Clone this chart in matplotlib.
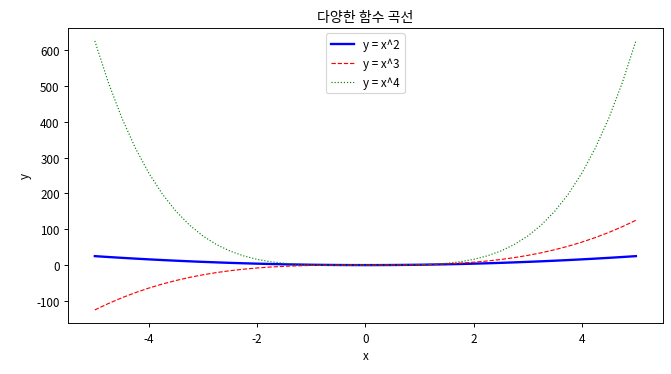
import matplotlib
matplotlib.use('Agg')
from matplotlib import pyplot as plt

# x values and function values
x_vals = [-5, -4.75, -4.5, -4.25, -4, -3.75, -3.5, -3.25, -3, -2.75, -2.5,
          -2.25, -2, -1.75, -1.5, -1.25, -1, -0.75, -0.5, -0.25, 0,
          0.25, 0.5, 0.75, 1, 1.25, 1.5, 1.75, 2, 2.25, 2.5,
          2.75, 3, 3.25, 3.5, 3.75, 4, 4.25, 4.5, 4.75, 5]

y_square = [25, 22.5625, 20.25, 18.0625, 16, 14.0625, 12.25, 10.5625, 9, 7.5625, 6.25,
            5.0625, 4, 3.0625, 2.25, 1.5625, 1, 0.5625, 0.25, 0.0625, 0,
            0.0625, 0.25, 0.5625, 1, 1.5625, 2.25, 3.0625, 4, 5.0625, 6.25,
            7.5625, 9, 10.5625, 12.25, 14.0625, 16, 18.0625, 20.25, 22.5625, 25]

y_cube = [-125, -107.17, -91.125, -76.77, -64, -52.73, -42.875, -34.33, -27, -20.80, -15.625,
          -11.39, -8, -5.359, -3.375, -1.953, -1, -0.4219, -0.125, -0.0156, 0,
          0.0156, 0.125, 0.4219, 1, 1.953, 3.375, 5.359, 8, 11.39, 15.625,
          20.80, 27, 34.33, 42.875, 52.73, 64, 76.77, 91.125, 107.17, 125]

y_fourth = [625, 509.07, 410.06, 326.25, 256, 197.75, 150.06, 111.57, 81, 57.19, 39.06,
            25.63, 16, 9.379, 5.0625, 2.441, 1, 0.3164, 0.0625, 0.0039, 0,
            0.0039, 0.0625, 0.3164, 1, 2.441, 5.0625, 9.379, 16, 25.63, 39.06,
            57.19, 81, 111.57, 150.06, 197.75, 256, 326.25, 410.06, 509.07, 625]

plt.rcParams['font.family'] = ['Noto Sans CJK KR', 'DejaVu Sans']
plt.rcParams['axes.unicode_minus'] = False

fig = plt.figure(figsize=(8, 4.4708), dpi=83.875)
ax = fig.add_subplot()
fig.subplots_adjust(left=0.101, right=0.988, top=0.924, bottom=0.135)

ax.plot(x_vals, y_square, color='blue', linewidth=2, label='y = x^2')
ax.plot(x_vals, y_cube, color='red', linestyle='--', linewidth=1, label='y = x^3')
ax.plot(x_vals, y_fourth, color='green', linestyle=':', linewidth=1, label='y = x^4')

ax.set_title('다양한 함수 곡선')
ax.set_xlabel('x')
ax.set_ylabel('y')
ax.legend(loc='upper center')

fig.savefig('out.png', dpi=83.875)
